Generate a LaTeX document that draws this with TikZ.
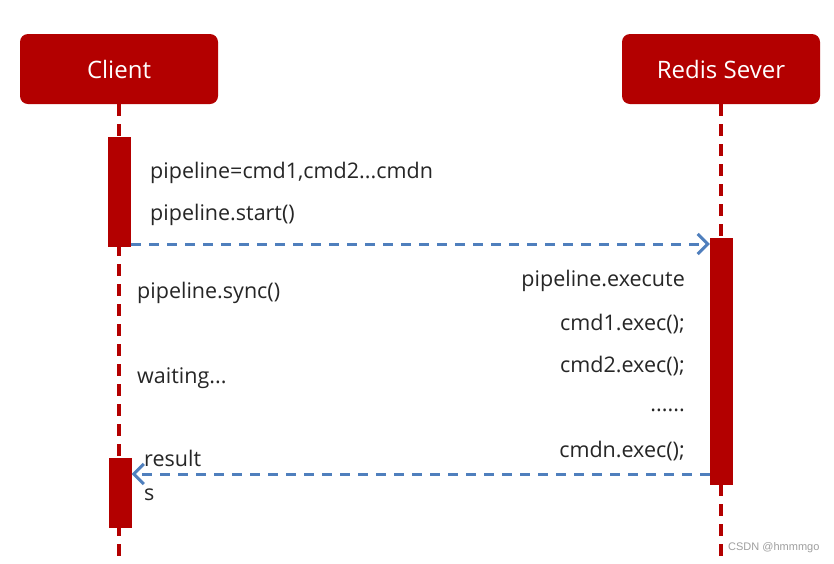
\documentclass[tikz,border=0pt]{standalone}
\usepackage{fontspec}
\setmainfont{Open Sans}
\newfontfamily\wmfont{Liberation Sans}
\usetikzlibrary{arrows.meta}
\definecolor{boxred}{HTML}{B30000}
\definecolor{msgblue}{HTML}{4F7FBD}
\definecolor{txt}{HTML}{262626}
\begin{document}
\begin{tikzpicture}[x=1pt,y=-1pt,
  header/.style={draw=none,fill=boxred,rounded corners=8pt,minimum width=198pt,minimum height=70pt,
    text=white,font=\fontsize{24}{28}\selectfont,inner sep=0pt},
  lifeline/.style={boxred,line width=3.2pt,dash pattern=on 12pt off 8pt},
  actbox/.style={fill=boxred,draw=none,minimum width=23pt,inner sep=0pt},
  msg/.style={msgblue,line width=3pt,dash pattern=on 10pt off 8pt,
    -{Straight Barb[length=10pt,width=20pt,line width=3pt]}},
  lbl/.style={text=txt,font=\fontsize{21.5}{25}\selectfont,inner sep=0pt},
  wm/.style={text=gray!75,font=\fontsize{11}{13}\selectfont\wmfont,inner sep=0pt}]
\useasboundingbox (0,0) rectangle (834,563);
\fill[white] (0,0) rectangle (834,563);
% headers
\node[header] (client) at (119,69) {Client};
\node[header] (server) at (721,69) {Redis Sever};
% lifeline ends
\coordinate (cend) at (119,558);
\coordinate (send) at (721,558);
\draw[lifeline] (client.south) -- (cend);
\draw[lifeline] (server.south) -- (send);
% activations
\node[actbox,minimum height=110pt] (ca1) at (119.5,192) {};
\node[actbox,minimum height=70pt] (ca2) at (120,493) {};
\node[actbox,minimum height=247pt] (sa1) at (721.5,361.5) {};
% messages
\coordinate (m1s) at (ca1.east |- 0,244);
\coordinate (m1e) at (sa1.west |- 0,244);
\draw[msg] (m1s) -- (m1e);
\coordinate (m2s) at (sa1.west |- 0,474);
\coordinate (m2e) at (ca2.east |- 0,474);
\draw[msg] (m2s) -- (m2e);
% left labels
\node[lbl,anchor=west] (t1) at (150,173) {pipeline=cmd1,cmd2...cmdn};
\node[lbl,anchor=west] (t2) at (150,215) {pipeline.start()};
\node[lbl,anchor=west] (t3) at (137,293) {pipeline.sync()};
\node[lbl,anchor=west] (t4) at (137,378) {waiting...};
\node[lbl,anchor=west] (t5) at (144,458) {result};
\node[lbl,anchor=west] (t6) at (144,495) {s};
% right labels
\node[lbl,anchor=east] (r1) at (685,281) {pipeline.execute};
\node[lbl,anchor=east] (r2) at (685,324) {cmd1.exec();};
\node[lbl,anchor=east] (r3) at (685,366) {cmd2.exec();};
\node[lbl,anchor=east] (r4) at (685,410) {......};
\node[lbl,anchor=east] (r5) at (685,451) {cmdn.exec();};
% watermark
\node[wm,anchor=west] (w) at (728,548) {CSDN @hmmmgo};
\end{tikzpicture}
\end{document}
